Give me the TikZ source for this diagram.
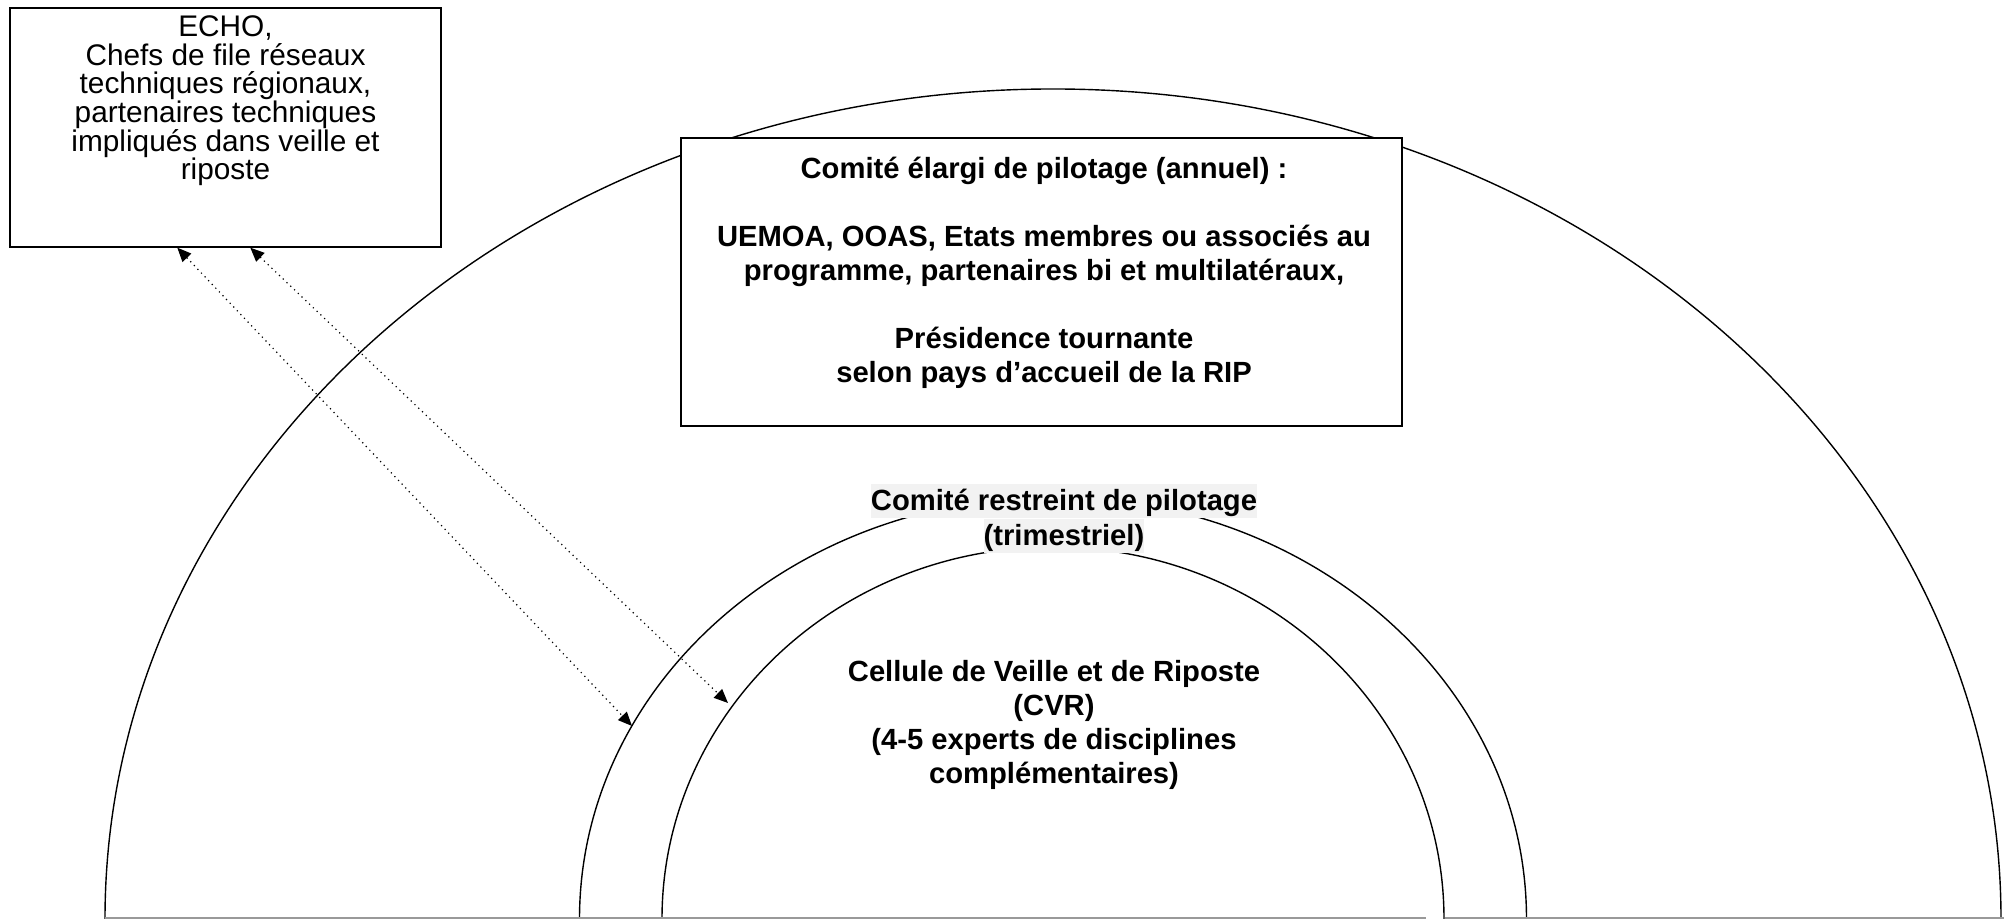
\documentclass[tikz,border=0pt]{standalone}
\usepackage{fontspec}
\setmainfont{Liberation Sans}
\usepackage{tikz}
\usetikzlibrary{arrows.meta}
\usetikzlibrary{positioning}
\usepackage{xcolor}
\definecolor{hilite}{HTML}{F2F2F2}

\tikzset{
  boxed/.style={draw, line width=0.7pt, fill=white},
  arcline/.style={line width=0.7pt},
  plaintext/.style={font=\fontsize{14.9pt}{14.3pt}\selectfont, align=center},
  boldtext/.style={font=\fontsize{14.6pt}{17pt}\selectfont\bfseries, align=center},
  marked/.style={boldtext, fill=hilite, inner xsep=0pt, inner ysep=0pt, text height=13.5pt, text depth=3.5pt},
  link/.style={dotted, line width=0.6pt, {Triangle[length=7pt,width=6pt]}-{Triangle[length=7pt,width=6pt]}}
}

\begin{document}
\begin{tikzpicture}[x=0.5pt, y=0.5pt]
\useasboundingbox (0,0) rectangle (2004,919);

\draw[arcline] (105,0) arc[start angle=180, end angle=0, x radius=948, y radius=830];
\draw[arcline] (579.5,0) arc[start angle=180, end angle=0, x radius=473.5, y radius=422];
\draw[arcline] (662,0) arc[start angle=180, end angle=0, x radius=391, y radius=372];
\draw[gray!80, line width=1pt] (105,1) -- (1426,1) (1445,1) -- (2004,1);

\node[boxed, minimum width=215.5pt, minimum height=119.5pt] (echo) at (225.5,791.5) {};
\node[plaintext] (echotext) at (225.5,818) {ECHO,\\ Chefs de file réseaux\\ techniques régionaux,\\ partenaires techniques\\ impliqués dans veille et\\ riposte};

\node[boxed, minimum width=360.5pt, minimum height=144pt] (elargi) at (1041.5,637) {};
\node[boldtext] (elargitext) at (1044,646) {Comité élargi de pilotage (annuel) :\\[17pt] UEMOA, OOAS, Etats membres ou associés au\\ programme, partenaires bi et multilatéraux,\\[17pt] Présidence tournante\\ selon pays d’accueil de la RIP};

\node[marked] (restreint) at (1064,418) {Comité restreint de pilotage};
\node[marked, below=0pt of restreint] (trimestriel) {(trimestriel)};

\node[boldtext] (cvr) at (1054,194) {Cellule de Veille et de Riposte\\ (CVR)\\ (4-5 experts de disciplines\\ complémentaires)};

\coordinate (ring) at (632,193);
\coordinate (core) at (728,216);
\draw[link] ([xshift=84pt]echo.south west) -- (ring);
\draw[link] ([xshift=120.5pt]echo.south west) -- (core);

\end{tikzpicture}
\end{document}
